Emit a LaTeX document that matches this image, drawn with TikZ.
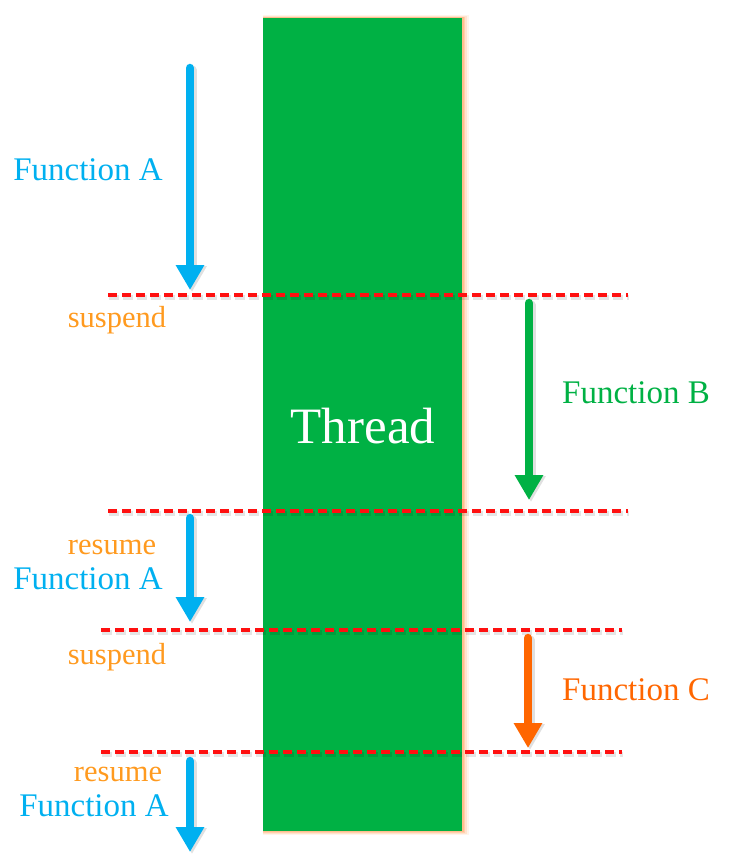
\documentclass[tikz,border=0pt]{standalone}
\usepackage{fontspec}
\setmainfont{Liberation Serif}
\usetikzlibrary{arrows.meta}
\definecolor{fblue}{HTML}{00B0F0}
\definecolor{fgreen}{HTML}{00B144}
\definecolor{forange}{HTML}{FF6600}
\definecolor{flabel}{HTML}{FF9A1F}
\definecolor{fred}{HTML}{FF1010}
\definecolor{fglow}{HTML}{FFB37A}
\begin{document}
\begin{tikzpicture}[x=1pt,y=-1pt,
  sep/.style={draw=fred,line width=3.4pt,dash pattern=on 9pt off 5pt},
  sepshadow/.style={draw=black,opacity=0.10,line width=5pt,dash pattern=on 10pt off 4pt},
  flow/.style={line width=8.5pt,line cap=round,-{Triangle[width=27pt,length=25pt]}},
  flowshadow/.style={draw=black,opacity=0.12,line width=9pt,line cap=round,-{Triangle[width=28pt,length=26pt]}},
  fname/.style={font=\fontsize{33}{34}\selectfont,inner sep=0pt},
  state/.style={font=\fontsize{30.5}{31}\selectfont,text=flabel,inner sep=0pt},
]
\useasboundingbox (0,0) rectangle (736,861);
% glow of the thread bar
\foreach \d/\o in {7/0.15,5/0.25,3/0.4,1.5/0.6}
  \fill[fglow,opacity=\o] (263,18-\d*0.4) rectangle (462+\d,831+\d*0.6);
\fill[fgreen] (263,18) rectangle (462,831);
\node (thread) [font=\fontsize{51}{52}\selectfont,text=white,inner sep=0pt] at (363,426) {Thread};

% separators
\coordinate (s1l) at (108,295); \coordinate (s1r) at (628,295);
\coordinate (s2l) at (108,511); \coordinate (s2r) at (628,511);
\coordinate (s3l) at (101,630); \coordinate (s3r) at (622,630);
\coordinate (s4l) at (101,752); \coordinate (s4r) at (622,752);
\foreach \a/\b in {s1l/s1r,s2l/s2r,s3l/s3r,s4l/s4r}{
  \draw[sepshadow] ([shift={(1pt,-2.5pt)}]\a) -- ([shift={(1pt,-2.5pt)}]\b);
  \draw[sep] (\a) -- (\b);
}

% arrows
\coordinate (a1s) at (190,68);  \coordinate (a1e) at (190,290);
\coordinate (bs)  at (529,303); \coordinate (be)  at (529,500);
\coordinate (a2s) at (190,518); \coordinate (a2e) at (190,622);
\coordinate (cs)  at (528,638); \coordinate (ce)  at (528,748);
\coordinate (a3s) at (190,761); \coordinate (a3e) at (190,852);
\foreach \s/\e in {a1s/a1e,bs/be,a2s/a2e,cs/ce,a3s/a3e}
  \draw[flowshadow] ([shift={(2pt,-2pt)}]\s) -- ([shift={(2pt,-2pt)}]\e);
\draw[flow,fblue] (a1s) -- (a1e);
\draw[flow,fgreen] (bs) -- (be);
\draw[flow,fblue] (a2s) -- (a2e);
\draw[flow,forange] (cs) -- (ce);
\draw[flow,fblue] (a3s) -- (a3e);

% labels
\node (fa1) [fname,text=fblue] at (88,170) {Function A};
\node (sus1) [state] at (117,320) {suspend};
\node (fb) [fname,text=fgreen] at (636,393) {Function B};
\node (res1) [state] at (112,547) {resume};
\node (fa2) [fname,text=fblue] at (88,579) {Function A};
\node (sus2) [state] at (117,657) {suspend};
\node (fc) [fname,text=forange] at (636,690) {Function C};
\node (res2) [state] at (118,774) {resume};
\node (fa3) [fname,text=fblue] at (94,806) {Function A};
\end{tikzpicture}
\end{document}
